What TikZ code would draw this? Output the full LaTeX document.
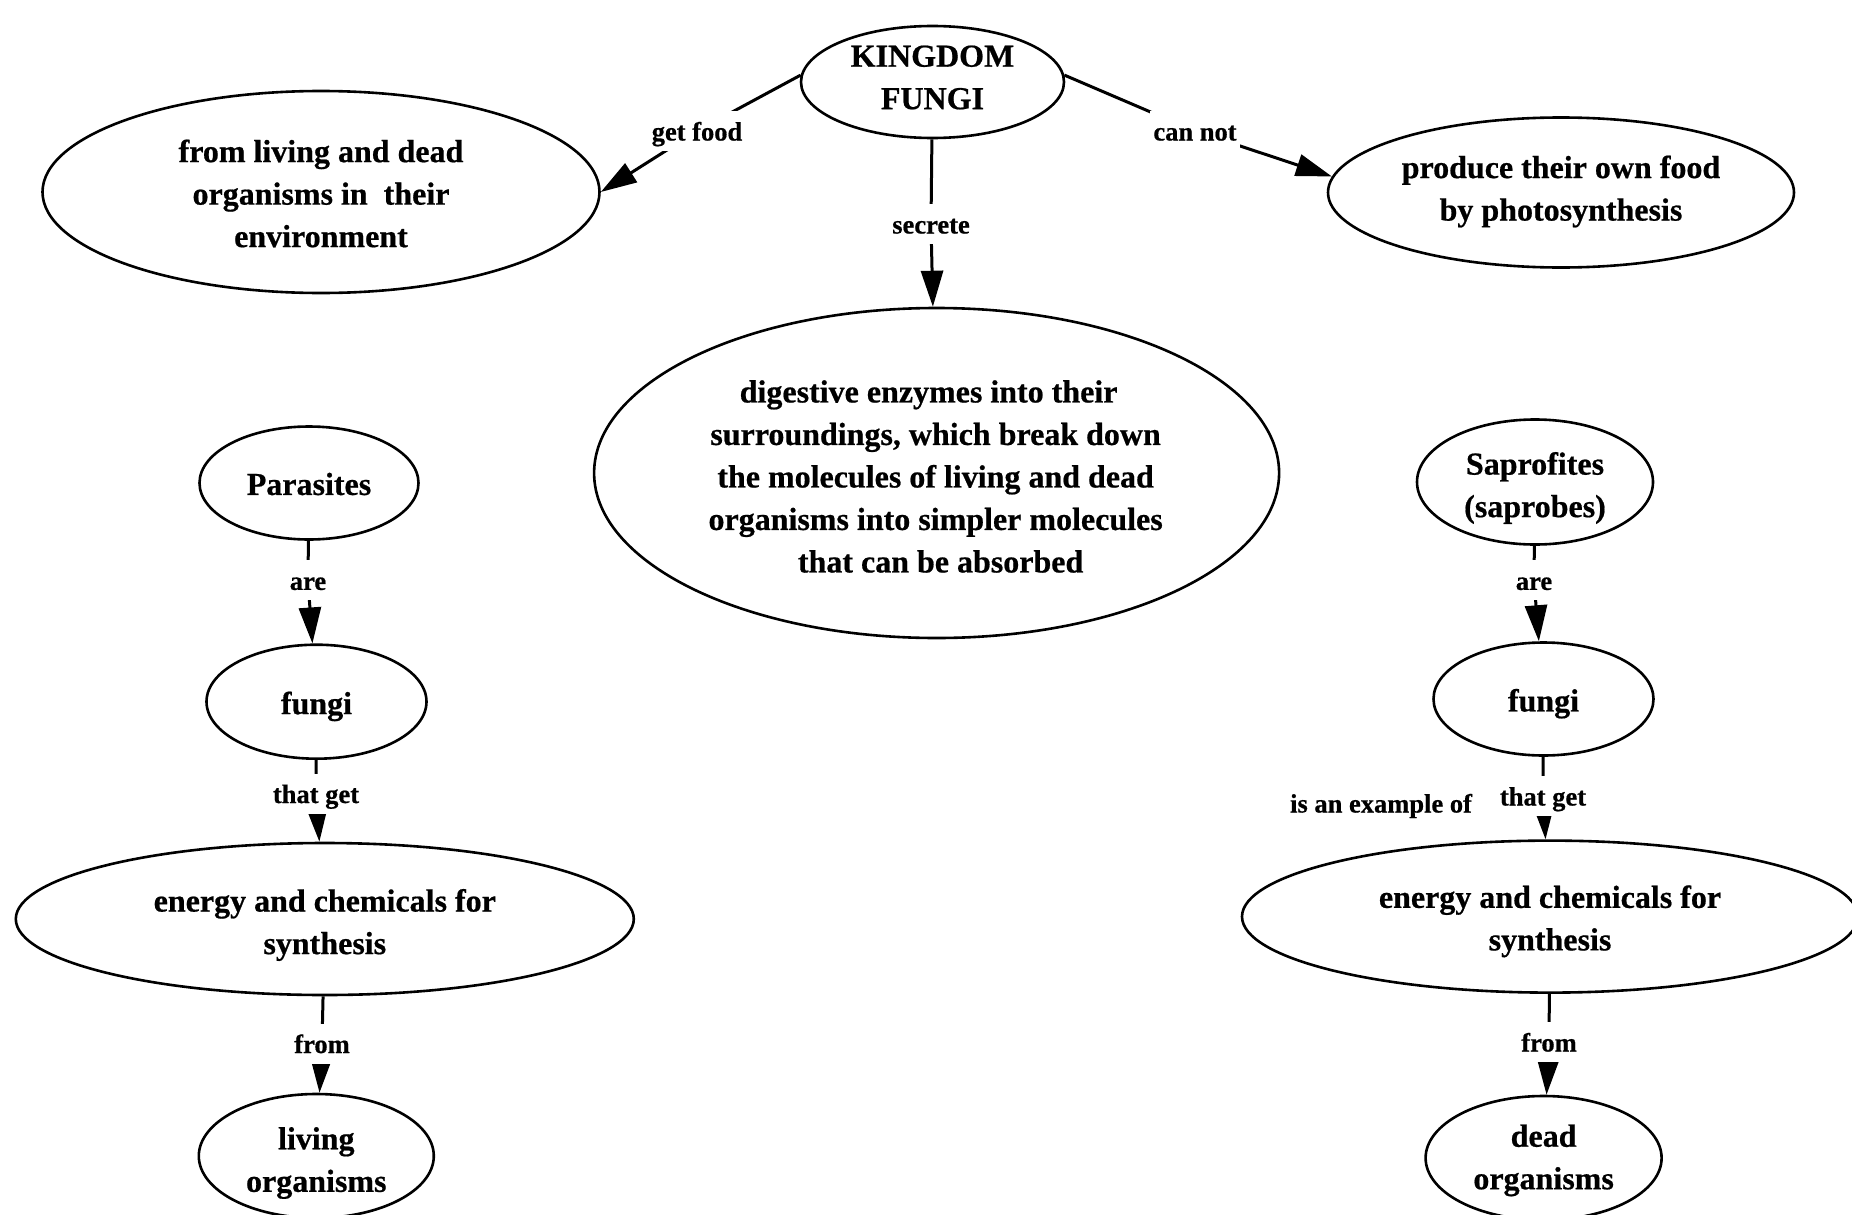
\documentclass[tikz,border=0pt]{standalone}
\usepackage{fontspec}
\setmainfont{Liberation Serif}[BoldFeatures={FakeBold=0.6}]
\usetikzlibrary{shapes.geometric,arrows.meta}
\pgfdeclarelayer{links}
\pgfsetlayers{links,main}
\tikzset{
  concept/.style={ellipse, draw, line width=2.6pt, inner sep=0pt},
  ctext/.style={inner sep=0pt, align=center,
    font=\fontsize{32}{42.5}\selectfont\bfseries},
  phrase/.style={fill=white, inner xsep=3pt, inner ysep=0pt, minimum height=40pt,
    text height=22pt, text depth=3pt, font=\fontsize{26.5}{30}\selectfont\bfseries},
  link/.style={line width=3pt},
  arrowlink/.style={link, -{Triangle[length=36pt,width=22pt]}},
}
\begin{document}
\begin{tikzpicture}[x=1pt,y=-1pt]
\useasboundingbox (0,0) rectangle (1852,1215);

% concept ellipses
\node[concept, minimum width=263pt, minimum height=112pt] (kf) at (932.5,82) {};
\node[concept, minimum width=557pt, minimum height=202pt] (fl) at (321,192) {};
\node[concept, minimum width=466pt, minimum height=150pt] (pr) at (1561,192.5) {};
\node[concept, minimum width=685pt, minimum height=330pt] (dg) at (936.6,473) {};
\node[concept, minimum width=219pt, minimum height=113pt] (pa) at (309,483) {};
\node[concept, minimum width=220pt, minimum height=114pt] (fL) at (316.5,701.7) {};
\node[concept, minimum width=618pt, minimum height=152pt] (eL) at (324.8,919) {};
\node[concept, minimum width=235pt, minimum height=124pt] (lv) at (316.3,1156) {};
\node[concept, minimum width=236pt, minimum height=125pt] (sa) at (1535,482) {};
\node[concept, minimum width=220pt, minimum height=113pt] (fR) at (1543.5,699) {};
\node[concept, minimum width=616pt, minimum height=152pt] (eR) at (1550,916.6) {};
\node[concept, minimum width=236pt, minimum height=124pt] (dd) at (1543.6,1158) {};

% concept texts
\node[ctext, yshift=4.5pt] (kft) at (kf) {KINGDOM\\FUNGI};
\node[ctext, yshift=-1.5pt] (flt) at (fl) {from living and dead\\organisms in\ \ their\\environment};
\node[ctext, yshift=1pt] (prt) at (pr) {produce their own food\\by photosynthesis};
\node[ctext, yshift=-3.5pt, xshift=-1pt] (dgt) at (dg)
  {digestive enzymes into their\hspace*{14pt}\\surroundings, which break down\\the molecules of living and dead\hspace*{9pt}\\organisms into simpler molecules\hspace*{30pt}\\\hspace*{10pt}that can be absorbed};
\node[ctext, yshift=-1pt] (pat) at (pa) {Parasites};
\node[ctext, yshift=-4.7pt] (fLt) at (fL) {fungi};
\node[ctext, yshift=-6pt] (eLt) at (eL) {energy and chemicals for\\synthesis};
\node[ctext, yshift=-7pt] (lvt) at (lv) {living\\organisms};
\node[ctext, yshift=-6pt] (sat) at (sa) {Saprofites\\(saprobes)};
\node[ctext, yshift=-4.7pt] (fRt) at (fR) {fungi};
\node[ctext, yshift=-4.7pt] (eRt) at (eR) {energy and chemicals for\\synthesis};
\node[ctext, yshift=-2.4pt] (ddt) at (dd) {dead\\organisms};

% linking phrases
\node[phrase] (getfood) at (697,131) {get food};
\node[phrase] (secrete) at (931,224) {secrete};
\node[phrase] (cannot) at (1195,131) {can not};
\node[phrase] (areL) at (308,580.4) {are};
\node[phrase] (thatgetL) at (316,793.5) {that get};
\node[phrase] (fromL) at (322,1043.5) {from};
\node[phrase] (areR) at (1534,580.4) {are};
\node[phrase] (thatgetR) at (1543,796) {that get};
\node[phrase] (fromR) at (1549,1042) {from};
\node[phrase, fill=none] (isex) at (1381,803) {is an example of};

% connections
\begin{pgfonlayer}{links}
\draw[link] (kf.177) -- (getfood.center);
\draw[arrowlink] (getfood.center) -- (fl.east);
\draw[link] (kf) -- (secrete.center);
\draw[arrowlink] (secrete.center) -- (dg);
\draw[link] (kf.3) -- (cannot.center);
\draw[arrowlink] (cannot.center) -- (pr.176);

\draw[link] (pa) -- (areL.center);
\draw[arrowlink] (areL.center) -- (fL);
\draw[link] (fL) -- (thatgetL.center);
\draw[arrowlink] (thatgetL.center) -- (eL);
\draw[link] (eL) -- (fromL.center);
\draw[arrowlink] (fromL.center) -- (lv);

\draw[link] (sa) -- (areR.center);
\draw[arrowlink] (areR.center) -- (fR);
\draw[link] (fR) -- (thatgetR.center);
\draw[arrowlink] (thatgetR.center) -- (eR);
\draw[link] (eR) -- (fromR.center);
\draw[arrowlink] (fromR.center) -- (dd);
\end{pgfonlayer}
\end{tikzpicture}
\end{document}
